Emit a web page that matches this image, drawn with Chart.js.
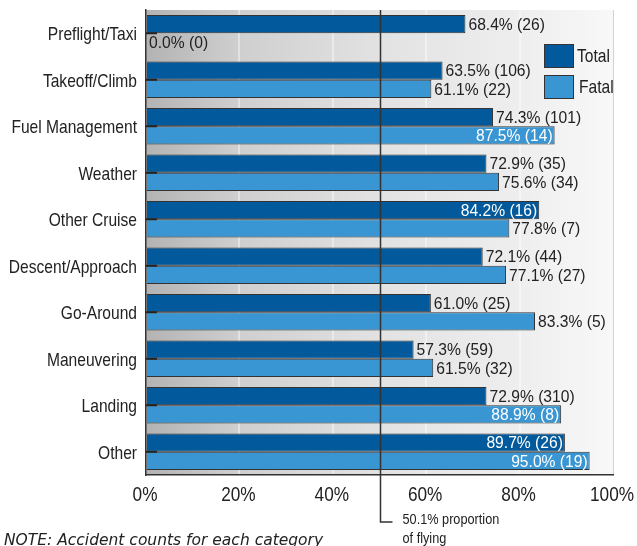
<!DOCTYPE html>
<html>
<head>
<meta charset="utf-8">
<script src="https://cdn.jsdelivr.net/npm/chart.js@4"></script>
<style>
  html, body { margin: 0; padding: 0; background: #fff; }
</style>
</head>
<body>
<canvas id="chart" width="637" height="546"></canvas>
<script>
// ── Data ──
const categories = ['Preflight/Taxi', 'Takeoff/Climb', 'Fuel Management', 'Weather', 'Other Cruise',
  'Descent/Approach', 'Go-Around', 'Maneuvering', 'Landing', 'Other'];
const totalPct = [68.4, 63.5, 74.3, 72.9, 84.2, 72.1, 61.0, 57.3, 72.9, 89.7];
const totalCounts = [26, 106, 101, 35, 16, 44, 25, 59, 310, 26];
const fatalPct = [0.0, 61.1, 87.5, 75.6, 77.8, 77.1, 83.3, 61.5, 88.9, 95.0];
const fatalCounts = [0, 22, 14, 34, 7, 27, 5, 32, 8, 19];
const xTickLabels = ['0%', '20%', '40%', '60%', '80%', '100%'];
const flyingShare = 50.1;
const flyingNote = ['50.1% proportion', 'of flying'];
const footNote = 'NOTE: Accident counts for each category';

// ── Style ──
// no condensed face installed, so squeeze Liberation Sans horizontally
const SANS = '"Liberation Sans", Arial, sans-serif';
const INK = '#222';
const TOTAL_COLOR = '#02599b';
const FATAL_COLOR = '#3996d3';

function narrowText(ctx, text, x, y, align, squeeze = 0.82) {
  ctx.save();
  ctx.translate(x, y);
  ctx.scale(squeeze, 1);
  ctx.textAlign = align;
  ctx.fillText(text, 0, 0);
  ctx.restore();
}

// ── Plugins ──
const backdrop = {
  id: 'backdrop',
  beforeDraw(chart) {
    const { ctx, chartArea: a } = chart;
    const g = ctx.createLinearGradient(a.left, 0, a.right, 0);
    g.addColorStop(0, '#b3b3b3');
    g.addColorStop(0.2, '#cfcfcf');
    g.addColorStop(0.5, '#e2e2e2');
    g.addColorStop(0.8, '#eeeeee');
    g.addColorStop(1, '#f8f8f8');
    ctx.save();
    ctx.fillStyle = g;
    ctx.fillRect(a.left, a.top, a.right - a.left, a.bottom - a.top);
    ctx.strokeStyle = '#d2d2d2';
    ctx.lineWidth = 1;
    ctx.beginPath();
    ctx.moveTo(a.right + 0.5, a.top);
    ctx.lineTo(a.right + 0.5, a.bottom);
    ctx.stroke();
    ctx.restore();
  }
};

const overlay = {
  id: 'overlay',
  afterDatasetsDraw(chart) {
    const { ctx, chartArea: a, scales } = chart;
    ctx.save();
    ctx.textBaseline = 'middle';

    // value labels, moved inside the bar when they would run past the frame
    const VAL_SQ = 0.92;
    ctx.font = '17px ' + SANS;
    chart.data.datasets.forEach((ds, di) => {
      chart.getDatasetMeta(di).data.forEach((bar, i) => {
        const text = `${ds.data[i].toFixed(1)}% (${ds.counts[i]})`;
        const w = ctx.measureText(text).width * VAL_SQ;
        if (bar.x + 3 + w > a.right) {
          ctx.fillStyle = '#fff';
          narrowText(ctx, text, bar.x - 2, bar.y + 1, 'right', VAL_SQ);
        } else {
          ctx.fillStyle = INK;
          narrowText(ctx, text, bar.x + 3, bar.y + 1, 'left', VAL_SQ);
        }
      });
    });

    // category labels + inward ticks
    ctx.font = '19px ' + SANS;
    ctx.fillStyle = INK;
    ctx.strokeStyle = INK;
    ctx.lineWidth = 2;
    categories.forEach((c, i) => {
      const y = scales.y.getPixelForTick(i);
      narrowText(ctx, c, a.left - 9, y + 2, 'right');
      ctx.beginPath();
      ctx.moveTo(a.left, y);
      ctx.lineTo(a.left + 11, y);
      ctx.stroke();
    });

    // x tick labels
    ctx.font = '21px ' + SANS;
    xTickLabels.forEach((t, i) => {
      narrowText(ctx, t, scales.x.getPixelForValue(i * 20) - 1, a.bottom + 20, 'center');
    });

    // flying share reference line
    const x = Math.round(scales.x.getPixelForValue(flyingShare)) + 0.5;
    const yEnd = a.bottom + 47;
    ctx.strokeStyle = '#333';
    ctx.lineWidth = 1.5;
    ctx.beginPath();
    ctx.moveTo(x, a.top);
    ctx.lineTo(x, yEnd);
    ctx.lineTo(x + 12, yEnd);
    ctx.stroke();

    ctx.font = '15.5px ' + SANS;
    narrowText(ctx, flyingNote[0], x + 22, yEnd - 2, 'left');
    narrowText(ctx, flyingNote[1], x + 22, yEnd + 17, 'left');

    // footnote
    ctx.font = 'italic 15.5px "DejaVu Sans", sans-serif';
    ctx.textBaseline = 'alphabetic';
    ctx.textAlign = 'left';
    ctx.fillText(footNote, 4, 545);
    ctx.restore();
  },
  afterDraw(chart) {
    const { ctx, chartArea: a } = chart;
    ctx.save();
    ctx.font = '19px ' + SANS;
    ctx.textBaseline = 'middle';
    chart.data.datasets.forEach((ds, i) => {
      const bx = a.right - 69, by = a.top + 34 + i * 31;
      ctx.fillStyle = ds.backgroundColor;
      ctx.fillRect(bx, by, 30, 24);
      ctx.strokeStyle = '#333';
      ctx.lineWidth = 1;
      ctx.strokeRect(bx + 0.5, by + 0.5, 29, 23);
      ctx.fillStyle = INK;
      narrowText(ctx, ds.label, bx + 33 + i * 2, by + 13, 'left');
    });
    ctx.restore();
  }
};

// ── Chart ──
new Chart(document.getElementById('chart'), {
  type: 'bar',
  data: {
    labels: categories,
    datasets: [
      { label: 'Total', data: totalPct, counts: totalCounts, backgroundColor: TOTAL_COLOR,
        borderColor: '#333', borderWidth: 1, categoryPercentage: 0.78, barPercentage: 1 },
      { label: 'Fatal', data: fatalPct, counts: fatalCounts, backgroundColor: FATAL_COLOR,
        borderColor: '#333', borderWidth: 1, categoryPercentage: 0.78, barPercentage: 1 }
    ]
  },
  options: {
    indexAxis: 'y',
    responsive: false,
    animation: false,
    devicePixelRatio: 1,
    layout: { padding: { top: 10, right: 24, left: 0, bottom: 0 } },
    plugins: { legend: { display: false }, tooltip: { enabled: false } },
    scales: {
      x: {
        min: 0, max: 100,
        ticks: { stepSize: 20, display: false },
        grid: {
          color: c => (c.tick && (c.tick.value === 0 || c.tick.value === 100)) ? 'rgba(0,0,0,0)' : 'rgba(255,255,255,0.4)',
          lineWidth: 2, drawTicks: false
        },
        border: { color: '#333', width: 1.5 },
        afterFit: s => { s.height = 71; }
      },
      y: {
        ticks: { display: false },
        grid: { display: false, drawTicks: false },
        border: { color: '#333', width: 1.5 },
        afterFit: s => { s.width = 146; }
      }
    }
  },
  plugins: [backdrop, overlay]
});
</script>
</body>
</html>
